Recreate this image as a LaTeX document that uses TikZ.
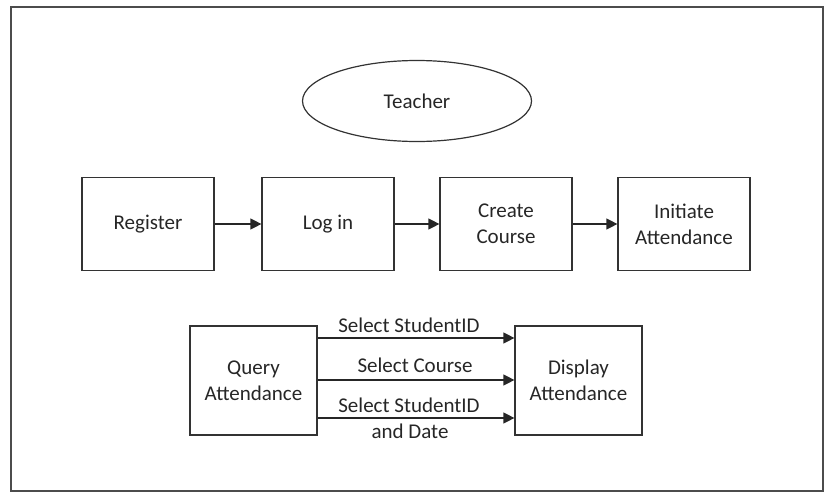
\documentclass[tikz,border=0pt]{standalone}
\usepackage{fontspec}
\setmainfont{Carlito}
\usetikzlibrary{arrows.meta,shapes.geometric}
\begin{document}
\begin{tikzpicture}[x=1pt,y=-1pt,
  every node/.style={font=\fontsize{21}{26}\selectfont, text=black!85},
  boxnode/.style={draw=black!80, line width=1.2pt, minimum width=132pt, minimum height=93pt, align=center, inner sep=0pt},
  qbox/.style={draw=black!80, line width=1.2pt, minimum width=127pt, minimum height=109pt, align=center, inner sep=0pt},
  flow/.style={draw=black!85, line width=1.2pt, -{Triangle[length=11pt,width=11pt]}},
  lbl/.style={inner sep=0pt}]
\useasboundingbox (0,0) rectangle (832,498);
\draw[black!70, line width=1.4pt] (11,7) rectangle (823,491);
\node[ellipse, draw=black!80, line width=1.2pt, minimum width=229pt, minimum height=81pt, inner sep=0pt] (teacher) at (417,101) {Teacher};
\node[boxnode] (reg) at (148,224) {Register};
\node[boxnode] (login) at (328,224) {Log in};
\node[boxnode] (create) at (506,224) {Create\\Course};
\node[boxnode] (init) at (684,224) {Initiate\\Attendance};
\draw[flow] (reg) -- (login);
\draw[flow] (login) -- (create);
\draw[flow] (create) -- (init);
\node[qbox] (query) at (253.5,380.5) {Query\\Attendance};
\node[qbox] (display) at (578.5,380.5) {Display\\Attendance};
\draw[flow] (query.east |- 0,338) -- (display.west |- 0,338);
\draw[flow] (query.east |- 0,380) -- (display.west |- 0,380);
\draw[flow] (query.east |- 0,418) -- (display.west |- 0,418);
\node[lbl] (l1) at (409,325) {Select StudentID};
\node[lbl] (l2) at (415,365) {Select Course};
\node[lbl] (l3) at (409,405) {Select StudentID};
\node[lbl] (l4) at (410,431) {and Date};
\end{tikzpicture}
\end{document}
